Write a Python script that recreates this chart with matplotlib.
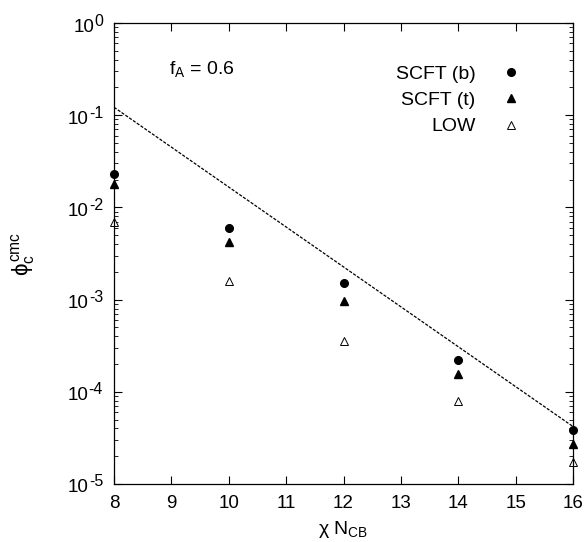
import matplotlib
matplotlib.use("Agg")
import matplotlib.pyplot as plt
from matplotlib.lines import Line2D
from matplotlib.transforms import offset_copy

plt.rcParams['font.family'] = ['Liberation Sans', 'DejaVu Sans']
plt.rcParams['mathtext.fontset'] = 'custom'
plt.rcParams['mathtext.rm'] = 'Liberation Sans'
plt.rcParams['mathtext.it'] = 'Liberation Sans'
plt.rcParams['mathtext.sf'] = 'Liberation Sans'

# data
chi_n = [8, 10, 12, 14, 16]
scft_b = [0.023, 0.0060, 0.0015, 0.00022, 3.85e-5]
scft_t = [0.0179, 0.0042, 0.00097, 0.000155, 2.74e-5]
low = [0.0069, 0.0016, 0.00036, 8.0e-5, 1.73e-5]
fit_x = [8, 16]
fit_y = [0.122, 4.2e-5]
y_exponents = [0, -1, -2, -3, -4, -5]

fig = plt.figure(figsize=(5.84, 5.42), dpi=100)
ax = fig.add_axes([114 / 584, 1 - 484 / 542, (573 - 114) / 584, (484 - 23) / 542])

ax.plot(fit_x, fit_y, color='black', lw=0.9, ls=(0, (2.5, 1.2)))
ax.plot(chi_n, scft_b, 'o', color='black', ms=5.5, ls='none', clip_on=False)
ax.plot(chi_n, scft_t, '^', color='black', ms=5.5, ls='none', clip_on=False)
ax.plot(chi_n, low, '^', mfc='white', mec='black', mew=0.7, ms=5.5, ls='none', clip_on=False)

ax.set_yscale('log')
ax.set_xlim(8, 16)
ax.set_ylim(1e-5, 1)
ax.set_xticks(range(8, 17))
ax.tick_params(which='both', direction='in', top=True, right=True, labelsize=13.5)
ax.tick_params(which='major', length=6, width=0.8, pad=8)
ax.tick_params(which='minor', length=3, width=0.6)
ax.tick_params(axis='y', labelleft=False)
for s in ax.spines.values():
    s.set_linewidth(0.9)

# y tick labels drawn by hand, with big superscripts like the original
fig.canvas.draw()
renderer = fig.canvas.get_renderer()
ytrans = ax.get_yaxis_transform()
for e in y_exponents:
    exp_txt = ax.text(0, 10.0 ** e, str(e),
                      transform=offset_copy(ytrans, fig, x=-11, y=2, units='dots'),
                      ha='right', va='center', fontsize=11.5)
    w = exp_txt.get_window_extent(renderer).width
    ax.text(0, 10.0 ** e, '10',
            transform=offset_copy(ytrans, fig, x=-11 - w, y=-4, units='dots'),
            ha='right', va='center', fontsize=13.5)

ax.set_xlabel(r'$\chi\ \mathregular{N_{CB}}$', fontsize=14, labelpad=5)
ax.set_ylabel(r'$\phi_{\mathregular{c}}^{\mathregular{cmc}}$', fontsize=16, labelpad=52)

ax.text(0.12, 0.89, r'$\mathregular{f_A}$ = 0.6', transform=ax.transAxes, fontsize=14)

handles = [
    Line2D([], [], marker='o', color='black', ls='none', ms=5.5),
    Line2D([], [], marker='^', color='black', ls='none', ms=5.5),
    Line2D([], [], marker='^', mfc='white', mec='black', mew=0.7, ls='none', ms=5.5),
]
ax.legend(handles, ['SCFT (b)', 'SCFT (t)', 'LOW'], loc='upper right',
          bbox_to_anchor=(0.925, 0.9465), frameon=False, markerfirst=False,
          fontsize=14, handlelength=1.0, handletextpad=1.35, labelspacing=0.45)

fig.savefig('out.png', dpi=100)
